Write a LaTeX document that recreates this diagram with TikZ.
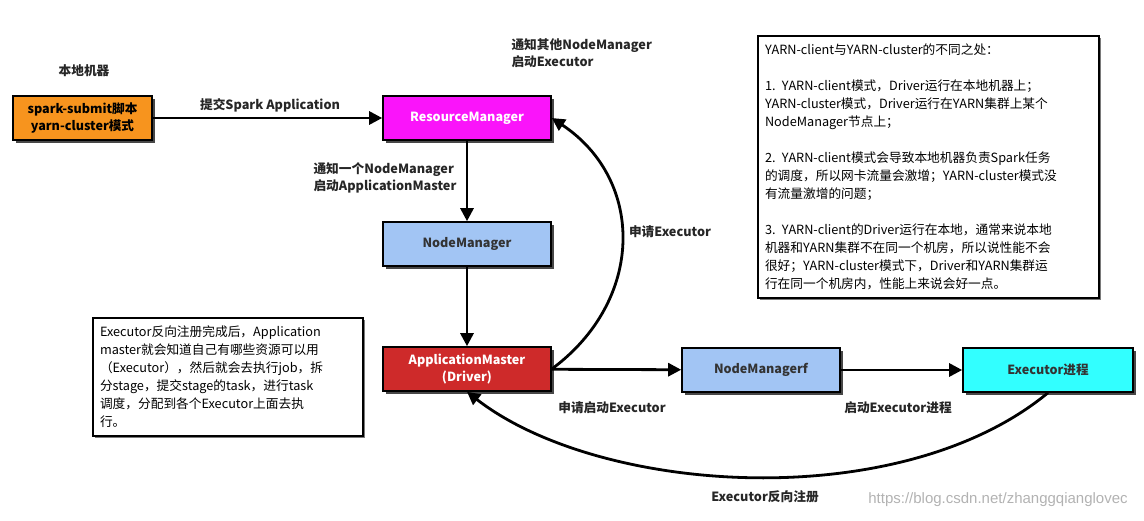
\documentclass[tikz,border=0pt]{standalone}
\usepackage{fontspec}
\setmainfont{Noto Sans CJK SC}
\newfontfamily\urlfont{Liberation Sans}
\usetikzlibrary{arrows.meta}
\usetikzlibrary{shadows}

\definecolor{submitorange}{RGB}{247,148,30}
\definecolor{rmmagenta}{RGB}{250,20,250}
\definecolor{nmblue}{RGB}{162,197,244}
\definecolor{amred}{RGB}{206,42,42}
\definecolor{execcyan}{RGB}{50,255,255}

\begin{document}
\begin{tikzpicture}[x=1pt, y=-1pt,
  box/.style = {draw, line width=1.6pt, minimum width=168pt, minimum height=44pt,
    inner sep=2pt, align=center, font=\fontsize{12.6}{17}\selectfont\bfseries,
    drop shadow={shadow xshift=2.5pt, shadow yshift=-2.5pt, fill=black!80, opacity=0.9}},
  note/.style = {draw, line width=1.3pt, fill=white, align=left, inner sep=7pt,
    font=\fontsize{12.7}{18}\selectfont,
    drop shadow={shadow xshift=2pt, shadow yshift=-2pt, fill=black!65, opacity=0.8}},
  lbl/.style = {align=left, font=\fontsize{12.7}{17}\selectfont\bfseries, text=black!85},
  arr/.style = {-{Triangle[length=13pt, width=13pt]}, line width=2.8pt}]
\useasboundingbox (0,0) rectangle (1144,520);

% boxes
\node[box, fill=submitorange, minimum width=139pt] (submit) at (82.5,118) {spark-submit脚本\\yarn-cluster模式};
\node[box, fill=rmmagenta, text=white] (rm) at (467,118) {ResourceManager};
\node[box, fill=nmblue, text=black!80] (nm) at (467,244) {NodeManager};
\node[box, fill=amred, text=white] (am) at (467,369) {ApplicationMaster\\(Driver)};
\node[box, fill=nmblue, text=black!80, minimum width=158pt] (nmf) at (761,370) {NodeManagerf};
\node[box, fill=execcyan, text=black!80, minimum width=170pt] (exec) at (1048,370) {Executor进程};

% notes
\node[note, text width=327pt, minimum height=262pt] (diff) at (928.5,167) {YARN-client与YARN-cluster的不同之处：\\[18pt]
1. YARN-client模式，Driver运行在本地机器上；\\
YARN-cluster模式，Driver运行在YARN集群上某个\\
NodeManager节点上；\\[18pt]
2. YARN-client模式会导致本地机器负责Spark任务\\
的调度，所以网卡流量会激增；YARN-cluster模式没\\
有流量激增的问题；\\[18pt]
3. YARN-client的Driver运行在本地，通常来说本地\\
机器和YARN集群不在同一个机房，所以说性能不会\\
很好；YARN-cluster模式下，Driver和YARN集群运\\
行在同一个机房内，性能上来说会好一点。};
\node[note, text width=256pt, minimum height=118pt] (after) at (228,377) {Executor反向注册完成后，Application\\
master就会知道自己有哪些资源可以用\\
（Executor），然后就会去执行job，拆\\
分stage，提交stage的task，进行task\\
调度，分配到各个Executor上面去执\\
行。};

% labels
\node[lbl] (local) at (84,71) {本地机器};
\node[lbl] (submitlbl) at (270,105) {提交Spark Application};
\node[lbl, anchor=west] (startam) at (310,178) {通知一个NodeManager\\启动ApplicationMaster};
\node[lbl, anchor=west] (others) at (508,53) {通知其他NodeManager\\启动Executor};
\node[lbl] (askexec) at (670,232) {申请Executor};
\node[lbl] (askstart) at (612,408) {申请启动Executor};
\node[lbl] (startexec) at (898,408) {启动Executor进程};
\node[lbl] (register) at (765,497) {Executor反向注册};
\node[text=black!30, font=\urlfont\fontsize{15}{17}\selectfont] (mark) at (998,500) {https://blog.csdn.net/zhanggqianglovec};

% connectors
\draw[arr] (submit) -- (rm);
\draw[arr] (rm) -- (nm);
\draw[arr] (nm) -- (am);
\draw[arr] (am) -- (nmf);
\draw[arr] (nmf) -- (exec);
\draw[arr] (am.east) .. controls (645,300) and (645,180) .. (rm.east);
\draw[arr] (exec.south) .. controls (900,515) and (600,495) .. (am.south);
\end{tikzpicture}
\end{document}
